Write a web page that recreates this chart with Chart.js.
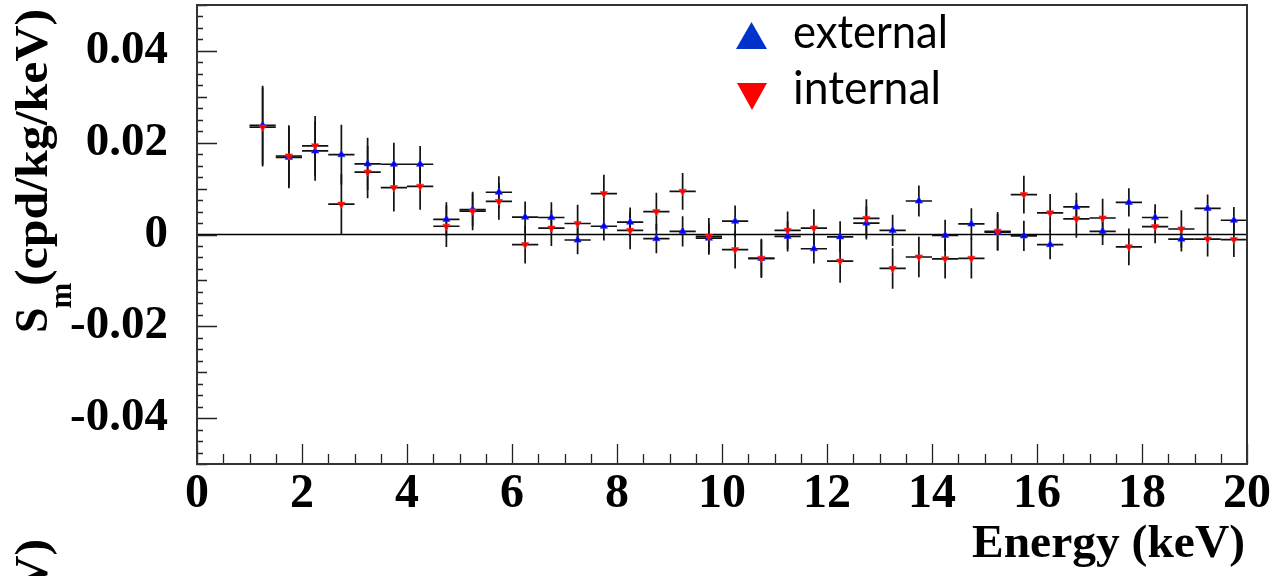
<!DOCTYPE html>
<html>
<head>
<meta charset="utf-8">
<script src="https://cdn.jsdelivr.net/npm/chart.js@4/dist/chart.umd.min.js"></script>
<style>
  html, body { margin: 0; padding: 0; background: #fff; }
  #wrap { width: 1272px; height: 576px; }
</style>
</head>
<body>
<div id="wrap"><canvas id="smChart" width="1272" height="576"></canvas></div>
<script>
// bin centres (keV), 0.5 keV bins
const energyBins = [1.25, 1.75, 2.25, 2.75, 3.25, 3.75, 4.25, 4.75, 5.25, 5.75,
    6.25, 6.75, 7.25, 7.75, 8.25, 8.75, 9.25, 9.75, 10.25, 10.75,
    11.25, 11.75, 12.25, 12.75, 13.25, 13.75, 14.25, 14.75, 15.25, 15.75,
    16.25, 16.75, 17.25, 17.75, 18.25, 18.75, 19.25, 19.75];
const binHalfWidth = 0.25;

const externalValues = [0.0238, 0.0168, 0.0182, 0.0174, 0.0154, 0.0153, 0.0153, 0.0033, 0.0054, 0.0092,
    0.0038, 0.0037, -0.0012, 0.0018, 0.0027, -0.0009, 0.0007, -0.0008, 0.0029, -0.0052,
    -0.0004, -0.0031, -0.0005, 0.0025, 0.0009, 0.0073, -0.0002, 0.0023, 0.0005, -0.0003,
    -0.0022, 0.0060, 0.0007, 0.0070, 0.0037, -0.0010, 0.0057, 0.0031];
const externalErrors = [0.0086, 0.0067, 0.0065, 0.0065, 0.0057, 0.0047, 0.0040, 0.0037, 0.0036, 0.0035,
    0.0034, 0.0033, 0.0031, 0.0031, 0.0032, 0.0032, 0.0033, 0.0032, 0.0034, 0.0040,
    0.0033, 0.0032, 0.0034, 0.0036, 0.0034, 0.0034, 0.0034, 0.0034, 0.0040, 0.0033,
    0.0032, 0.0031, 0.0030, 0.0031, 0.0029, 0.0027, 0.0030, 0.0029];

const internalValues = [0.0234, 0.0171, 0.0193, 0.0066, 0.0136, 0.0102, 0.0105, 0.0018, 0.0051, 0.0072,
    -0.0022, 0.0014, 0.0024, 0.0089, 0.0009, 0.0050, 0.0094, -0.0004, -0.0033, -0.0052,
    0.0009, 0.0014, -0.0058, 0.0035, -0.0074, -0.0049, -0.0053, -0.0052, 0.0007, 0.0087,
    0.0047, 0.0034, 0.0036, -0.0027, 0.0017, 0.0012, -0.0010, -0.0011];
const internalErrors = [0.0086, 0.0067, 0.0065, 0.0065, 0.0057, 0.0052, 0.0051, 0.0045, 0.0042, 0.0040,
    0.0041, 0.0039, 0.0041, 0.0041, 0.0041, 0.0041, 0.0040, 0.0040, 0.0041, 0.0043,
    0.0041, 0.0041, 0.0047, 0.0042, 0.0044, 0.0044, 0.0043, 0.0044, 0.0042, 0.0041,
    0.0041, 0.0041, 0.0042, 0.0040, 0.0036, 0.0041, 0.0038, 0.0038];

const seriesLabels = ['external', 'internal'];
const xTickValues = [0, 2, 4, 6, 8, 10, 12, 14, 16, 18, 20];
const xTickLabels = ['0', '2', '4', '6', '8', '10', '12', '14', '16', '18', '20'];
const yTickValues = [-0.04, -0.02, 0, 0.02, 0.04];
const yTickLabels = ['-0.04', '-0.02', '0', '0.02', '0.04'];
const xTitle = 'Energy (keV)';
const yTitleMain = 'S';
const yTitleSub = 'm';
const yTitleUnit = '(cpd/kg/keV)';

const serif = '"Liberation Serif", "Times New Roman", serif';

function toPoints(values, errors) {
    return energyBins.map((e, i) => ({ x: e, y: values[i], err: errors[i] }));
}

function drawYTitle(ctx, baseX, bottomY) {
    ctx.save();
    ctx.translate(baseX, bottomY);
    ctx.rotate(-Math.PI / 2);
    ctx.fillStyle = '#000';
    ctx.textBaseline = 'alphabetic';
    ctx.textAlign = 'left';
    ctx.font = 'bold 46px ' + serif;
    ctx.fillText(yTitleMain, 0, 0);
    const sw = ctx.measureText(yTitleMain).width;
    ctx.font = 'bold 31px ' + serif;
    ctx.fillText(yTitleSub, sw - 1, 24);
    ctx.font = 'bold 46px ' + serif;
    const uw = ctx.measureText(yTitleUnit).width;
    ctx.translate(47, 0);
    ctx.scale(277 / uw, 1);
    ctx.fillText(yTitleUnit, 0, 0);
    ctx.restore();
}

const rootStyle = {
    id: 'rootStyle',
    beforeDatasetsDraw(chart) {
        const { ctx, chartArea, scales: { x, y } } = chart;
        ctx.save();
        // zero line
        ctx.strokeStyle = '#000';
        ctx.lineWidth = 1.5;
        ctx.beginPath();
        ctx.moveTo(chartArea.left, y.getPixelForValue(0));
        ctx.lineTo(chartArea.right, y.getPixelForValue(0));
        ctx.stroke();
        // error bars
        ctx.strokeStyle = '#111';
        ctx.lineWidth = 1.7;
        chart.data.datasets.forEach(ds => {
            ds.data.forEach(p => {
                const px = x.getPixelForValue(p.x);
                const py = y.getPixelForValue(p.y);
                ctx.beginPath();
                ctx.moveTo(x.getPixelForValue(p.x - binHalfWidth), py);
                ctx.lineTo(x.getPixelForValue(p.x + binHalfWidth), py);
                ctx.moveTo(px, y.getPixelForValue(p.y - p.err));
                ctx.lineTo(px, y.getPixelForValue(p.y + p.err));
                ctx.stroke();
            });
        });
        ctx.restore();
    },
    afterDatasetsDraw(chart) {
        const { ctx, chartArea, scales: { x, y } } = chart;
        ctx.save();
        ctx.strokeStyle = '#222';
        ctx.lineWidth = 1.3;
        ctx.beginPath();
        // x tick marks, inside the frame
        for (let i = 0; i <= 40; i++) {
            const px = Math.round(x.getPixelForValue(i * 0.5)) + 0.5;
            const len = i % 4 === 0 ? 20 : 10;
            ctx.moveTo(px, chartArea.bottom);
            ctx.lineTo(px, chartArea.bottom - len);
        }
        // y tick marks
        for (let i = -20; i <= 20; i++) {
            const py = Math.round(y.getPixelForValue(i * 0.0025)) + 0.5;
            const len = i % 8 === 0 ? 20 : (i % 4 === 0 ? 10 : 6);
            ctx.moveTo(chartArea.left, py);
            ctx.lineTo(chartArea.left + len, py);
        }
        ctx.stroke();
        // frame
        ctx.strokeStyle = '#333';
        ctx.lineWidth = 2;
        ctx.strokeRect(chartArea.left, chartArea.top, chartArea.right - chartArea.left, chartArea.bottom - chartArea.top);
        ctx.restore();
    },
    afterDraw(chart) {
        const { ctx } = chart;
        ctx.save();
        // x title
        ctx.font = 'bold 46px ' + serif;
        ctx.fillStyle = '#000';
        ctx.textAlign = 'right';
        ctx.textBaseline = 'alphabetic';
        const tw = ctx.measureText(xTitle).width;
        ctx.translate(1245, 557);
        ctx.scale(273 / tw, 1);
        ctx.fillText(xTitle, 0, 0);
        ctx.restore();

        // y title, plus the cut-off one of the panel below
        drawYTitle(ctx, 47, 333);
        drawYTitle(ctx, 47, 863);

        // legend
        ctx.save();
        ctx.fillStyle = '#0033cc';
        ctx.beginPath();
        ctx.moveTo(751.5, 22);
        ctx.lineTo(767, 49);
        ctx.lineTo(736, 49);
        ctx.closePath();
        ctx.fill();
        ctx.fillStyle = '#ff0000';
        ctx.beginPath();
        ctx.moveTo(737, 83);
        ctx.lineTo(767, 83);
        ctx.lineTo(752, 110);
        ctx.closePath();
        ctx.fill();
        ctx.fillStyle = '#000';
        ctx.font = '47px Lato, "Open Sans", sans-serif';
        ctx.textAlign = 'left';
        ctx.textBaseline = 'alphabetic';
        ctx.fillText(seriesLabels[0], 793, 48, 155);
        ctx.fillText(seriesLabels[1], 793, 104, 148);
        ctx.restore();
    }
};

const chart = new Chart(document.getElementById('smChart'), {
    type: 'scatter',
    data: {
        datasets: [
            {
                label: seriesLabels[0],
                data: toPoints(externalValues, externalErrors),
                pointStyle: 'triangle',
                pointRadius: 4.2,
                pointBackgroundColor: '#0000ff',
                pointBorderColor: '#2a2aff',
                pointBorderWidth: 0.6,
                order: 2
            },
            {
                label: seriesLabels[1],
                data: toPoints(internalValues, internalErrors),
                pointStyle: 'triangle',
                pointRotation: 180,
                pointRadius: 4.2,
                pointBackgroundColor: '#ff0000',
                pointBorderColor: '#ff2a2a',
                pointBorderWidth: 0.6,
                order: 1
            }
        ]
    },
    options: {
        responsive: false,
        devicePixelRatio: 1,
        animation: false,
        layout: { padding: { left: 0, right: 25, top: 5, bottom: 0 } },
        plugins: { legend: { display: false }, tooltip: { enabled: false } },
        scales: {
            x: {
                type: 'linear',
                min: 0,
                max: 20,
                grid: { display: false, drawTicks: false },
                border: { display: false },
                afterBuildTicks: s => { s.ticks = xTickValues.map(v => ({ value: v })); },
                afterFit: s => { s.height = 112; s.paddingLeft = 0; s.paddingRight = 0; },
                ticks: {
                    autoSkip: false,
                    maxRotation: 0,
                    padding: 2,
                    color: '#000',
                    font: { family: serif, size: 48, weight: 'bold' },
                    callback: (v) => xTickLabels[xTickValues.indexOf(v)]
                }
            },
            y: {
                type: 'linear',
                min: -0.05,
                max: 0.05,
                grid: { display: false, drawTicks: false },
                border: { display: false },
                afterBuildTicks: s => { s.ticks = yTickValues.map(v => ({ value: v })); },
                afterFit: s => { s.width = 197; s.paddingTop = 0; s.paddingBottom = 0; },
                ticks: {
                    autoSkip: false,
                    padding: 29,
                    color: '#000',
                    font: { family: serif, size: 47, weight: 'bold' },
                    callback: (v) => yTickLabels[yTickValues.findIndex(t => Math.abs(t - v) < 1e-9)]
                }
            }
        }
    },
    plugins: [rootStyle]
});
</script>
</body>
</html>
